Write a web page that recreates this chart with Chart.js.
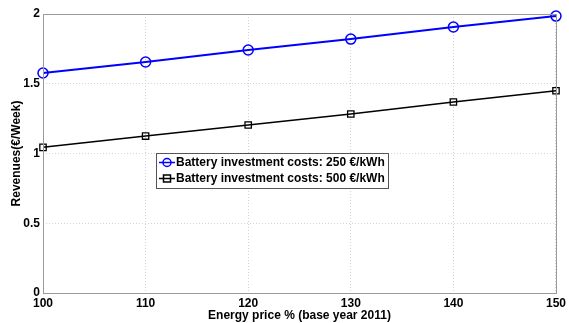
<!DOCTYPE html>
<html>
<head>
<meta charset="utf-8">
<script src="https://cdn.jsdelivr.net/npm/chart.js@4/dist/chart.umd.min.js"></script>
<style>
  html, body { margin: 0; padding: 0; background: #fff; }
  #wrap { width: 569px; height: 323px; position: relative; }
</style>
</head>
<body>
<div id="wrap"><canvas id="chart"></canvas></div>
<script>
const energyPrice = [100, 110, 120, 130, 140, 150];
const revenue250 = [1.577, 1.656, 1.742, 1.82, 1.907, 1.985];
const revenue500 = [1.044, 1.125, 1.204, 1.283, 1.369, 1.45];
const seriesLabels = [
  "Battery investment costs: 250 €/kWh",
  "Battery investment costs: 500 €/kWh",
];
const yTicks = [0, 0.5, 1, 1.5, 2];

const FONT = "Liberation Sans, Arial, sans-serif";

// box round the plot and a legend inside it, like the matlab figure
const boxAndLegend = {
  id: "boxAndLegend",
  afterDraw(chart) {
    const { ctx, chartArea: a } = chart;
    ctx.save();
    ctx.strokeStyle = "#9a9a9a";
    ctx.lineWidth = 1;
    ctx.strokeRect(a.left + 0.5, a.top + 0.5, a.right - a.left, a.bottom - a.top);

    // legend
    const lx = 156, ly = 153, lw = 232, lh = 35;
    ctx.fillStyle = "#fff";
    ctx.fillRect(lx, ly, lw, lh);
    ctx.strokeStyle = "#555";
    ctx.strokeRect(lx + 0.5, ly + 0.5, lw, lh);
    ctx.font = "bold 12px " + FONT;
    ctx.textBaseline = "middle";
    chart.data.datasets.forEach((ds, i) => {
      const y = ly + 9.5 + i * 16;
      ctx.strokeStyle = ds.borderColor;
      ctx.lineWidth = 1.5;
      ctx.beginPath();
      ctx.moveTo(lx + 3, y);
      ctx.lineTo(lx + 19, y);
      ctx.stroke();
      ctx.beginPath();
      if (ds.pointStyle === "circle") {
        ctx.arc(lx + 11, y, 4, 0, Math.PI * 2);
      } else {
        ctx.rect(lx + 7.5, y - 3.5, 7, 7);
      }
      ctx.stroke();
      ctx.fillStyle = "#000";
      ctx.fillText(ds.label, lx + 20, y + 0.5);
    });
    ctx.restore();
  },
};

new Chart(document.getElementById("chart"), {
  type: "line",
  data: {
    datasets: [
      {
        label: seriesLabels[0],
        data: energyPrice.map((x, i) => ({ x, y: revenue250[i] })),
        borderColor: "#0000ff",
        backgroundColor: "rgba(0,0,0,0)",
        borderWidth: 2,
        clip: false,
        pointStyle: "circle",
        pointRadius: 5,
        pointBorderWidth: 1.5,
        pointBackgroundColor: "rgba(0,0,0,0)",
      },
      {
        label: seriesLabels[1],
        data: energyPrice.map((x, i) => ({ x, y: revenue500[i] })),
        borderColor: "#000000",
        backgroundColor: "rgba(0,0,0,0)",
        borderWidth: 1.5,
        clip: false,
        pointStyle: "rect",
        pointRadius: 4.5,
        pointBorderWidth: 1.3,
        pointBackgroundColor: "rgba(0,0,0,0)",
      },
    ],
  },
  options: {
    responsive: true,
    maintainAspectRatio: false,
    animation: false,
    layout: { padding: { top: 14, right: 9, left: 9, bottom: 0 } },
    plugins: { legend: { display: false }, tooltip: { enabled: false } },
    scales: {
      x: {
        type: "linear",
        min: 100,
        max: 150,
        afterBuildTicks: (s) => { s.ticks = energyPrice.map((v) => ({ value: v })); },
        afterFit: (s) => { s.height = 30; },
        grid: { color: "#d4d4d4", drawTicks: false, tickLength: 0 },
        border: { display: false, dash: [1, 2] },
        ticks: {
          color: "#000",
          padding: 3,
          maxRotation: 0,
          font: { family: FONT, size: 12, weight: "bold" },
        },
        title: {
          display: true,
          text: "Energy price % (base year 2011)",
          color: "#000",
          padding: 0,
          font: { family: FONT, size: 12, weight: "bold" },
        },
      },
      y: {
        min: 0,
        max: 2,
        afterBuildTicks: (s) => { s.ticks = yTicks.map((v) => ({ value: v })); },
        afterFit: (s) => { s.width = 34; },
        grid: { color: "#d4d4d4", drawTicks: false, tickLength: 0 },
        border: { display: false, dash: [1, 2] },
        ticks: {
          color: "#000",
          padding: 3,
          callback: (v) => String(v),
          font: { family: FONT, size: 12, weight: "bold" },
        },
        title: {
          display: true,
          text: "Revenues(€/Week)",
          color: "#000",
          padding: 0,
          font: { family: FONT, size: 12, weight: "bold" },
        },
      },
    },
  },
  plugins: [boxAndLegend],
});
</script>
</body>
</html>
